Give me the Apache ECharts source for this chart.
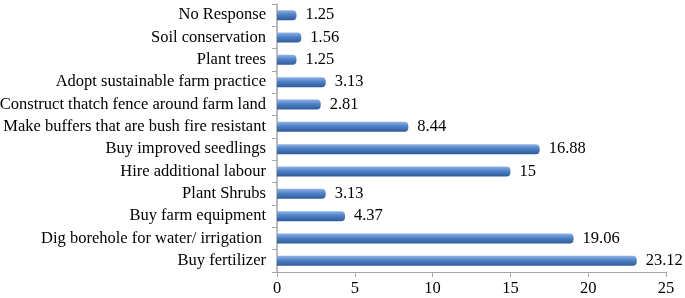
<!DOCTYPE html>
<html>
<head>
<meta charset="UTF-8">
<script src="https://cdn.jsdelivr.net/npm/echarts@6/dist/echarts.min.js"></script>
<style>
  html, body { margin: 0; padding: 0; background: #fff; }
  #box { width: 685px; height: 298px; }
</style>
</head>
<body>
<div id="box"></div>
<script>
  // categories bottom to top
  const categories = ['Buy fertilizer', 'Dig borehole for water/ irrigation ', 'Buy farm equipment', 'Plant Shrubs',
    'Hire additional labour', 'Buy improved seedlings', 'Make buffers that are bush fire resistant',
    'Construct thatch fence around farm land', 'Adopt sustainable farm practice', 'Plant trees',
    'Soil conservation', 'No Response']
  const values = [23.12, 19.06, 4.37, 3.13, 15, 16.88, 8.44, 2.81, 3.13, 1.25, 1.56, 1.25]

  var myChart = echarts.init(document.getElementById('box'))
  var font = '"Liberation Serif", "Times New Roman", serif'
  var option = {
    animation: false,
    grid: { left: 277, right: 19, top: 4, bottom: 26, outerBoundsMode: 'none' },
    xAxis: {
      type: 'value',
      min: 0, max: 25, interval: 5,
      axisLine: { show: true, lineStyle: { color: '#a6a6a6' } },
      axisTick: { show: true, length: 5, lineStyle: { color: '#a6a6a6' } },
      splitLine: { show: false },
      axisLabel: { color: '#000', fontFamily: font, fontSize: 16.5, margin: 8 }
    },
    yAxis: {
      type: 'category',
      data: categories,
      axisLine: { show: true, lineStyle: { color: '#a6a6a6', width: 1.5 } },
      axisTick: { show: true, length: 5, lineStyle: { color: '#a6a6a6' } },
      axisLabel: { color: '#000', fontFamily: font, fontSize: 16.5, margin: 11 }
    },
    series: [{
      type: 'bar',
      data: values,
      barWidth: 10,
      itemStyle: {
        borderRadius: [0, 4, 4, 0],
        color: new echarts.graphic.LinearGradient(0, 0, 0, 1, [
          { offset: 0, color: '#8fb3e6' },
          { offset: 0.45, color: '#4f81c7' },
          { offset: 1, color: '#2e5b9a' }
        ])
      },
      label: {
        show: true, position: 'right', distance: 9,
        color: '#000', fontFamily: font, fontSize: 16.5
      }
    }]
  }
  myChart.setOption(option)
</script>
</body>
</html>
